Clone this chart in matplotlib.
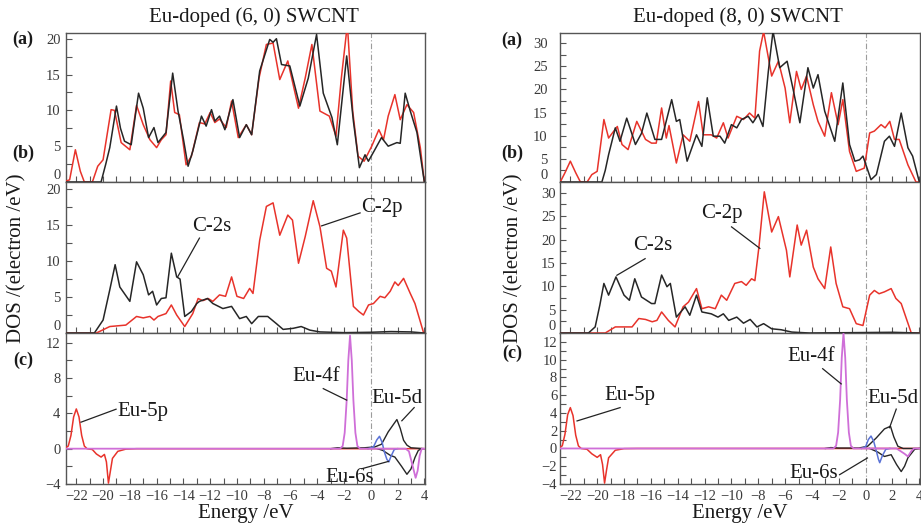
import matplotlib
matplotlib.use("Agg")
import matplotlib.pyplot as plt
from matplotlib.ticker import MultipleLocator, FuncFormatter

plt.rcParams['font.family'] = ['Liberation Serif', 'DejaVu Serif']

# ---------------- DATA (energy eV, DOS) ----------------
titles = ["Eu-doped (6, 0) SWCNT", "Eu-doped (8, 0) SWCNT"]
panel_labels = ["(a)", "(b)", "(c)"]
xlabel = "Energy /eV"
ylabel = "DOS /(electron /eV)"

# (6,0) panel (a): total DOS, black and red
l_a_black = [(-23, 0), (-20.15, 0), (-19.8, 2.5), (-19.5, 4.8), (-19.0, 10.6), (-18.7, 7.5), (-18.4, 5.7),
             (-17.9, 5.2), (-17.35, 12.4), (-17.0, 10.3), (-16.6, 6.2), (-16.2, 7.6), (-15.9, 5.5), (-15.3, 6.9),
             (-14.8, 15.2), (-14.4, 9.9), (-14.0, 6.0), (-13.65, 2.2), (-13.3, 4.3), (-12.65, 9.2), (-12.3, 7.8),
             (-11.9, 10.1), (-11.65, 8.5), (-11.3, 9.2), (-10.9, 7.3), (-10.3, 11.5), (-9.8, 6.2), (-9.3, 8.0),
             (-8.9, 6.6), (-8.3, 15.5), (-7.55, 19.9), (-7.3, 19.5), (-7.05, 20.0), (-6.67, 16.4), (-6.05, 16.2),
             (-5.3, 10.6), (-4.67, 14.5), (-4.05, 20.6), (-3.55, 12.4), (-2.9, 9.0), (-2.5, 5.2), (-1.8, 17.6),
             (-1.3, 8.5), (-0.85, 2.0), (-0.43, 3.8), (-0.18, 2.9), (0.3, 4.5), (0.8, 6.2), (1.3, 5.0), (1.95, 5.5),
             (2.2, 5.4), (2.57, 12.4), (2.95, 9.9), (3.45, 6.9), (4.0, 0)]
l_a_red = [(-23, 0), (-22.5, 0.3), (-22.07, 4.5), (-21.7, 1.5), (-21.4, 0), (-20.8, 0), (-20.4, 2.2), (-20.0, 3.1),
           (-19.4, 10.1), (-19.15, 10.0), (-18.65, 5.5), (-18.0, 4.5), (-17.5, 10.7), (-17.0, 8.0), (-16.5, 5.9),
           (-16.0, 4.8), (-15.65, 5.9), (-15.3, 6.6), (-14.95, 14.1), (-14.65, 9.7), (-14.3, 9.4), (-13.8, 2.4),
           (-13.4, 3.6), (-12.8, 8.3), (-12.4, 8.1), (-12.0, 9.7), (-11.65, 8.3), (-11.3, 8.8), (-10.8, 7.6),
           (-10.4, 11.3), (-9.9, 6.2), (-9.3, 8.0), (-8.9, 6.6), (-8.35, 14.5), (-7.8, 19.2), (-7.3, 19.4),
           (-6.8, 14.3), (-6.2, 16.9), (-5.4, 10.3), (-4.9, 14.5), (-4.4, 19.2), (-3.8, 9.9), (-3.1, 9.2),
           (-2.6, 6.4), (-2.2, 14.5), (-1.75, 22), (-1.35, 9.9), (-0.95, 3.6), (-0.5, 2.9), (0.07, 5.0), (0.6, 7.3),
           (0.95, 5.9), (1.3, 9.2), (1.8, 12.2), (2.2, 8.7), (2.7, 10.8), (3.2, 9.7), (3.7, 4.8), (4.0, 0)]
# (6,0) panel (b): C-2s (black), C-2p (red)
l_b_c2s = [(-23, 0), (-20.65, 0), (-20.0, 1.8), (-19.5, 6.0), (-19.1, 9.5), (-18.75, 6.4), (-18.0, 4.4),
           (-17.5, 9.9), (-17.0, 8.1), (-16.6, 5.3), (-16.3, 5.8), (-16.0, 3.9), (-15.65, 4.8), (-15.3, 4.9),
           (-14.9, 11.1), (-14.5, 7.8), (-14.25, 7.5), (-13.9, 2.3), (-13.4, 3.0), (-13.0, 4.1), (-12.8, 4.4),
           (-12.2, 4.8), (-11.8, 4.1), (-11.05, 3.4), (-10.4, 3.7), (-9.8, 2.0), (-9.3, 2.3), (-8.9, 1.3),
           (-8.4, 2.3), (-7.7, 2.3), (-7.05, 1.3), (-6.55, 0.5), (-5.8, 0.65), (-5.2, 0.9), (-4.55, 0.4),
           (-3.8, 0.15), (-2.0, 0.05), (0, 0.1), (1.5, 0.2), (3.0, 0.15), (4.0, 0)]
l_b_c2p = [(-23, 0), (-20.5, 0), (-19.5, 0.9), (-18.3, 1.1), (-17.5, 2.3), (-17.0, 2.1), (-16.5, 2.3),
           (-16.2, 1.8), (-15.9, 2.3), (-15.3, 2.7), (-14.9, 3.9), (-14.5, 2.5), (-13.9, 0.9), (-13.3, 2.7),
           (-12.9, 4.8), (-12.55, 4.5), (-12.15, 4.8), (-11.8, 4.4), (-11.3, 5.3), (-10.85, 5.1), (-10.4, 7.8),
           (-10.0, 5.1), (-9.5, 4.8), (-9.05, 6.2), (-8.8, 5.5), (-8.3, 12.9), (-7.8, 17.6), (-7.3, 18.1),
           (-6.8, 13.6), (-6.2, 16.4), (-5.85, 15.7), (-5.4, 9.7), (-4.9, 13.4), (-4.3, 18.4), (-3.8, 14.8),
           (-3.3, 9.0), (-2.95, 8.6), (-2.6, 6.4), (-2.05, 14.3), (-1.8, 13.2), (-1.3, 3.7), (-0.9, 3.0),
           (-0.55, 2.5), (-0.17, 3.9), (0.2, 4.1), (0.7, 5.1), (1.05, 4.9), (1.45, 5.8), (1.8, 7.1), (2.05, 6.6),
           (2.45, 7.6), (2.95, 5.5), (3.3, 4.1), (3.95, 0), (4.0, 0)]
# (6,0) panel (c): Eu orbitals
l_c_5p = [(-23, 0), (-22.9, 0), (-22.6, 0.3), (-22.4, 1.5), (-22.2, 3.6), (-22.0, 4.5), (-21.8, 3.6),
          (-21.6, 1.5), (-21.4, 0.3), (-21.2, 0), (-20.8, -0.1), (-20.5, -0.6), (-20.15, -0.95), (-19.9, -0.65),
          (-19.75, -1.5), (-19.6, -3.9), (-19.45, -2.5), (-19.3, -1.1), (-18.9, -0.3), (-18.3, -0.05), (-17.5, 0),
          (4, 0)]
l_c_4f = [(-23, 0), (-2.3, 0), (-2.1, 0.3), (-1.95, 1.8), (-1.8, 5.5), (-1.68, 10.0), (-1.55, 12.8),
          (-1.42, 10.0), (-1.3, 5.5), (-1.15, 1.8), (-1.0, 0.3), (-0.8, 0), (2.6, 0), (2.85, -0.3), (3.1, -1.8),
          (3.35, -3.3), (3.5, -2.5), (3.65, -0.8), (3.8, 0), (4, 0)]
l_c_6s = [(-0.2, 0), (0.2, 0.2), (0.45, 1.0), (0.65, 1.4), (0.85, 0.7), (1.0, -0.3), (1.2, -1.2), (1.35, -1.5),
          (1.5, -0.9), (1.75, -0.1), (2.0, 0)]
l_c_5d_up = [(-3.0, 0), (-2.5, 0.1), (-1.8, 0.05), (-0.5, 0.1), (0.3, 0.2), (0.8, 0.5), (1.3, 1.9), (1.95, 3.3),
             (2.2, 2.3), (2.45, 0.95), (2.7, 0.4), (3.0, 0.1), (4, 0)]
l_c_5d_dn = [(0.5, 0), (0.9, -0.2), (1.45, -0.75), (1.8, -0.95), (2.3, -2.0), (2.7, -2.9), (3.0, -2.3),
             (3.3, -1.0), (3.55, -0.2), (3.8, 0)]

# (8,0) panel (a)
r_a_black = [(-23, 0), (-19.65, 0), (-19.4, 2.5), (-19.15, 5.9), (-18.65, 11.7), (-18.3, 8.8), (-17.8, 13.8),
             (-17.15, 8.1), (-16.7, 10.5), (-16.3, 14.9), (-15.7, 9.2), (-15.2, 9.2), (-14.45, 17.8), (-14.1, 13.1),
             (-13.85, 13.5), (-13.3, 4.5), (-12.6, 10.2), (-12.2, 7.7), (-11.8, 18.2), (-11.35, 9.9), (-10.85, 9.9),
             (-10.5, 8.4), (-10.0, 12.4), (-9.6, 11.7), (-9.25, 13.5), (-8.75, 14.2), (-8.4, 12.8), (-8.0, 14.6),
             (-7.65, 12.0), (-7.25, 23.9), (-6.9, 32.6), (-6.4, 24.7), (-5.85, 26.1), (-5.4, 20.0), (-4.9, 12.8),
             (-4.3, 24.7), (-3.9, 20.3), (-3.55, 23.2), (-3.05, 15.3), (-2.3, 8.8), (-1.7, 21.4), (-1.2, 8.1),
             (-0.8, 4.5), (-0.45, 4.8), (-0.2, 5.6), (0.4, 0.5), (0.8, 1.6), (1.4, 8.8), (1.77, 9.9), (2.15, 7.7),
             (2.65, 14.9), (3.15, 7.4), (3.5, 5.6), (4.0, 0)]
r_a_red = [(-23, 0), (-22.75, 0), (-22.4, 2.0), (-22.0, 4.5), (-21.6, 2.0), (-21.25, 0), (-20.75, 0),
           (-20.4, 1.6), (-20.0, 2.3), (-19.5, 13.5), (-19.15, 9.5), (-18.5, 12.0), (-18.15, 8.1), (-17.7, 7.0),
           (-17.05, 13.1), (-16.4, 9.2), (-15.95, 8.4), (-15.6, 8.4), (-15.2, 16.0), (-14.85, 9.5), (-14.65, 12.2),
           (-14.1, 4.1), (-13.6, 10.2), (-13.1, 8.8), (-12.45, 17.4), (-12.1, 10.2), (-11.5, 10.2), (-11.1, 9.5),
           (-10.6, 12.8), (-10.25, 9.5), (-9.6, 14.2), (-9.1, 13.5), (-8.65, 14.9), (-8.25, 13.8), (-7.9, 28.3),
           (-7.6, 32.5), (-7.0, 22.9), (-6.5, 26.1), (-6.0, 20.3), (-5.65, 12.8), (-5.15, 23.9), (-4.8, 20.0),
           (-4.4, 22.9), (-3.9, 16.7), (-3.55, 13.1), (-3.05, 9.9), (-2.55, 19.3), (-2.05, 12.4), (-1.7, 17.8),
           (-1.2, 6.6), (-0.7, 2.3), (-0.1, 3.0), (0.3, 10.6), (0.65, 11.0), (1.15, 12.4), (1.45, 11.7),
           (1.8, 13.1), (2.15, 9.2), (2.5, 9.2), (3.15, 3.7), (3.75, 0), (4.0, 0)]
# (8,0) panel (b)
r_b_c2s = [(-23, 0), (-20.65, 0), (-20.15, 1.3), (-19.8, 6.0), (-19.5, 10.6), (-19.15, 8.1), (-18.6, 12.0),
           (-18.0, 8.1), (-17.6, 7.0), (-17.2, 11.6), (-16.7, 7.7), (-15.95, 6.3), (-15.7, 6.3), (-15.2, 12.4),
           (-14.8, 9.9), (-14.55, 10.6), (-14.1, 3.4), (-13.45, 5.6), (-13.1, 3.8), (-12.6, 8.1), (-12.2, 4.5),
           (-11.5, 4.1), (-11.0, 3.4), (-10.6, 4.1), (-10.2, 2.7), (-9.6, 3.4), (-9.1, 2.1), (-8.6, 2.9),
           (-8.1, 1.3), (-7.6, 2.0), (-7.0, 0.9), (-6.3, 0.7), (-5.5, 0.2), (-4.2, 0), (0, 0.1), (2, 0.15), (4, 0)]
r_b_c2p = [(-23, 0), (-19.4, 0), (-18.65, 1.3), (-17.4, 1.3), (-16.9, 3.1), (-16.4, 2.9), (-15.9, 2.4),
           (-15.55, 2.7), (-15.2, 4.5), (-14.7, 2.7), (-14.2, 1.3), (-13.6, 5.6), (-13.2, 6.6), (-12.6, 9.5),
           (-12.2, 5.2), (-11.7, 5.6), (-11.2, 5.2), (-10.75, 8.1), (-10.35, 7.0), (-9.75, 10.6), (-9.25, 11.0),
           (-8.9, 10.2), (-8.5, 11.6), (-8.25, 11.2), (-7.95, 18.4), (-7.55, 30.2), (-7.0, 21.6), (-6.5, 24.9),
           (-5.9, 17.7), (-5.65, 12.0), (-5.1, 23.1), (-4.8, 18.8), (-4.4, 22.0), (-3.9, 14.1), (-3.55, 11.6),
           (-3.05, 9.5), (-2.6, 18.4), (-2.2, 10.6), (-1.7, 5.6), (-1.2, 5.2), (-0.7, 2.0), (-0.2, 1.6),
           (0.3, 8.1), (0.65, 9.1), (1.0, 8.4), (1.4, 8.8), (1.9, 9.5), (2.25, 7.4), (2.65, 6.3), (3.4, 0), (4.0, 0)]
# (8,0) panel (c)
r_c_5p = [(-23, 0), (-22.9, 0), (-22.6, 0.3), (-22.4, 1.6), (-22.2, 3.8), (-22.0, 4.6), (-21.8, 3.7),
          (-21.6, 1.5), (-21.4, 0.3), (-21.2, 0), (-20.75, -0.1), (-20.4, -0.6), (-20.0, -1.0), (-19.75, -0.7),
          (-19.6, -1.8), (-19.45, -3.9), (-19.3, -2.4), (-19.15, -1.05), (-18.65, -0.2), (-18.0, -0.02),
          (-17.0, 0), (4, 0)]
r_c_4f = [(-23, 0), (-2.4, 0), (-2.2, 0.3), (-2.05, 1.8), (-1.9, 5.5), (-1.78, 10.2), (-1.65, 13.0),
          (-1.52, 10.2), (-1.4, 5.5), (-1.25, 1.8), (-1.1, 0.3), (-0.9, 0), (2.3, 0), (2.6, -0.3), (2.9, -0.6),
          (3.15, -0.9), (3.4, -0.3), (3.6, 0), (4, 0)]
r_c_6s = [(-0.3, 0), (0.0, 0.2), (0.2, 1.0), (0.4, 1.4), (0.6, 0.8), (0.8, -0.3), (0.95, -1.2), (1.05, -1.6),
          (1.25, -0.8), (1.5, -0.1), (1.8, 0)]
r_c_5d_up = [(-3.0, 0), (-2.6, 0.1), (-2.0, 0.05), (-0.5, 0.05), (0.15, 0.25), (0.8, 1.2), (1.4, 2.2),
             (1.85, 2.5), (2.1, 1.3), (2.4, 0.25), (2.8, 0), (4, 0)]
r_c_5d_dn = [(0.3, 0), (0.9, -0.4), (1.4, -0.9), (1.9, -0.7), (2.3, -1.8), (2.65, -2.6), (2.9, -2.0),
             (3.15, -1.05), (3.65, -0.1), (4, 0)]

# annotation labels: (text, text_xy, line_start, line_end)
l_b_notes = [("C-2s", (-11.9, 14.75), (-12.8, 13.2), (-14.43, 7.8)),
             ("C-2p", (0.85, 17.4), (-0.8, 16.7), (-3.67, 14.9))]
l_c_notes = [("Eu-5p", (-17.05, 4.16), (-19.03, 4.47), (-21.65, 3.0)),
             ("Eu-4f", (-4.05, 8.14), (-3.55, 6.8), (-1.8, 5.5)),
             ("Eu-5d", (1.94, 5.65), (3.24, 4.65), (2.32, 3.16)),
             ("Eu-6s", (-1.55, -3.22), (-0.67, -2.27), (1.32, -1.44))]
r_b_notes = [("C-2s", (-15.83, 18.8), (-16.43, 15.9), (-18.53, 12.35)),
             ("C-2p", (-10.73, 25.6), (-9.99, 22.7), (-7.88, 18.1))]
r_c_notes = [("Eu-5p", (-17.54, 5.94), (-18.29, 4.6), (-21.5, 3.1)),
             ("Eu-4f", (-4.07, 10.3), (-3.2, 8.98), (-1.82, 7.27)),
             ("Eu-5d", (2.03, 5.57), (2.28, 4.43), (1.78, 2.34)),
             ("Eu-6s", (-3.9, -2.77), (-1.94, -2.95), (0.13, -1.07))]

# ---------------- STYLE ----------------
W, H = 921, 529
RED = '#e8332b'
BLK = '#262626'
MAG = '#cf6fd8'
BLU = '#5a72d6'
SPINE = '#555555'

fig = plt.figure(figsize=(W / 100, H / 100), dpi=100)


def rect(x0, x1, y0, y1):
    return [x0 / W, 1 - y1 / H, (x1 - x0) / W, (y1 - y0) / H]


def xy(pairs):
    return [p[0] for p in pairs], [p[1] for p in pairs]


fmt = FuncFormatter(lambda v, p: ('\u2212%d' % abs(v)) if v < 0 else '%d' % v)


def setup(ax, ylim, major, minor, labels_x, ypad=4, raise_zero=False):
    ax.set_xlim(-22.77, 4.05)
    ax.set_ylim(*ylim)
    ax.xaxis.set_major_locator(MultipleLocator(2))
    ax.xaxis.set_minor_locator(MultipleLocator(1))
    ax.yaxis.set_major_locator(MultipleLocator(major))
    ax.yaxis.set_minor_locator(MultipleLocator(minor))
    ax.tick_params(which='both', direction='in', length=4, width=0.8, color=SPINE,
                   top=False, right=False)
    ax.tick_params(axis='y', labelsize=10.5, labelcolor='#3a3a3a', pad=ypad)
    ax.tick_params(axis='x', labelsize=10.5, labelcolor='#3a3a3a', pad=4)
    if not labels_x:
        ax.tick_params(axis='x', labelbottom=False)
    for s in ax.spines.values():
        s.set_color(SPINE)
        s.set_linewidth(1.0)
    ax.axvline(0, color='#9c9c9c', lw=0.8, ls=(0, (5, 2, 1, 2)), zorder=1)
    ax.xaxis.set_major_formatter(fmt)
    ax.yaxis.set_major_formatter(fmt)
    if raise_zero:
        locs = ax.yaxis.get_majorticklocs()
        ticks = ax.yaxis.get_major_ticks(len(locs))
        for loc, tk in zip(locs, ticks):
            if abs(loc - ylim[0]) < 1e-9:
                tk.label1.set_verticalalignment('bottom')


def notes(ax, items):
    for txt, tpos, s, e in items:
        ax.text(tpos[0], tpos[1], txt, fontsize=15, ha='center', va='center', color='#1a1a1a', zorder=6)
        ax.plot([s[0], e[0]], [s[1], e[1]], color='#222222', lw=0.9, zorder=6)


cols = [
    dict(x0=66, x1=425, a=(l_a_black, l_a_red), b=(l_b_c2s, l_b_c2p), c=(l_c_5p, l_c_5d_up, l_c_5d_dn, l_c_6s, l_c_4f),
         ylims=((0, 20.8), (0, 21.0), (-4, 13.1)), majors=((5, 2.5), (5, 2.5), (4, 2)),
         bnotes=l_b_notes, cnotes=l_c_notes, title=titles[0], tx=254, tpad=(4, 4, 4)),
    dict(x0=560, x1=920, a=(r_a_black, r_a_red), b=(r_b_c2s, r_b_c2p), c=(r_c_5p, r_c_5d_up, r_c_5d_dn, r_c_6s, r_c_4f),
         ylims=((0, 32.2), (0, 32.3), (-4, 13.0)), majors=((5, 2.5), (5, 2.5), (2, 1)),
         bnotes=r_b_notes, cnotes=r_c_notes, title=titles[1], tx=738, tpad=(9, 3, 2)),
]

for col in cols:
    x0, x1 = col['x0'], col['x1']
    axa = fig.add_axes(rect(x0, x1, 33, 182))
    axb = fig.add_axes(rect(x0, x1, 182, 333))
    axc = fig.add_axes(rect(x0, x1, 333, 484))
    for ax, yl, (mj, mn), lx, pd, rz in zip((axa, axb, axc), col['ylims'], col['majors'],
                                            (False, False, True), col['tpad'], (True, True, False)):
        setup(ax, yl, mj, mn, lx, pd, rz)
    blk, red = col['a']
    axa.plot(*xy(red), color=RED, lw=1.1, zorder=3)
    axa.plot(*xy(blk), color=BLK, lw=1.1, zorder=4)
    s2, p2 = col['b']
    axb.plot(*xy(p2), color=RED, lw=1.1, zorder=3)
    axb.plot(*xy(s2), color=BLK, lw=1.1, zorder=4)
    p5, d_up, d_dn, s6, f4 = col['c']
    axc.plot(*xy(p5), color=RED, lw=1.1, zorder=3)
    axc.plot(*xy(d_up), color=BLK, lw=1.0, zorder=3)
    axc.plot(*xy(d_dn), color=BLK, lw=1.0, zorder=3)
    axc.plot(*xy(s6), color=BLU, lw=1.1, zorder=4)
    axc.plot(*xy(f4), color=MAG, lw=1.3, zorder=5)
    notes(axb, col['bnotes'])
    notes(axc, col['cnotes'])
    axc.set_xlabel(xlabel, fontsize=15, labelpad=1, color='#1a1a1a')
    fig.text(col['tx'] / W, 1 - 17 / H, col['title'], fontsize=15, ha='center', va='center', color='#1a1a1a')

# panel letters and y labels
for lx, ys in ((23, (39, 153, 360)), (512, (40, 153, 353))):
    for lab, yy in zip(panel_labels, ys):
        fig.text(lx / W, 1 - yy / H, lab, fontsize=13, fontweight='bold', ha='center', va='center',
                 color='#1a1a1a')
for yx in (17, 514):
    fig.text(yx / W, 1 - 258 / H, ylabel, fontsize=15, rotation=90, ha='center', va='center', color='#1a1a1a')

fig.savefig('out.png', dpi=100)
